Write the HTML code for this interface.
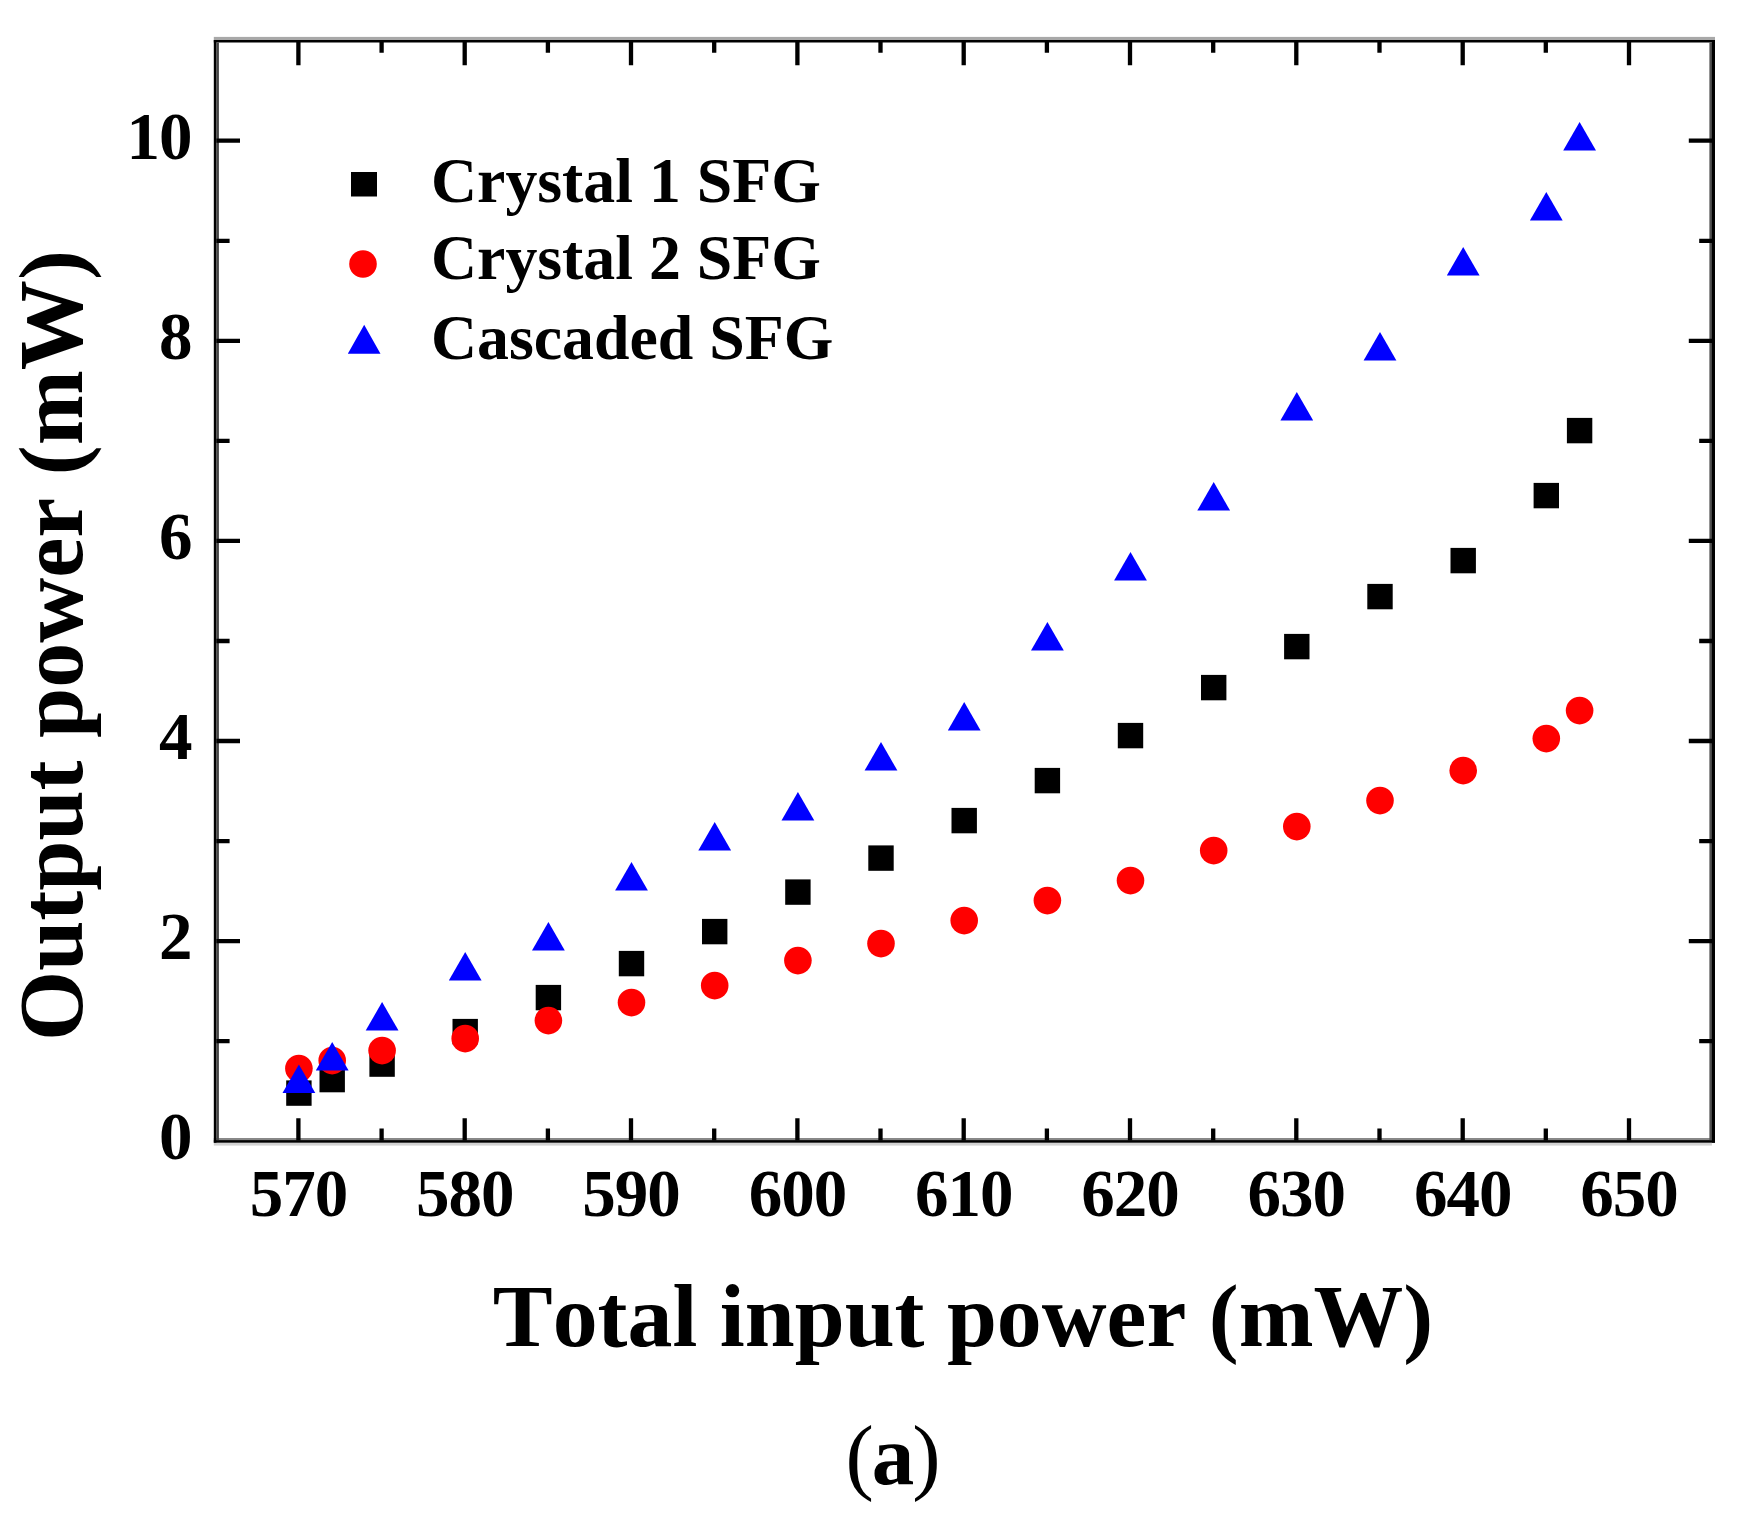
<!DOCTYPE html>
<html lang="en">
<head>
<meta charset="utf-8">
<title>Output power versus total input power</title>
<style>
html,body{margin:0;padding:0;background:#fff;}
body{width:1751px;height:1522px;overflow:hidden;position:relative;}
svg{position:absolute;left:0;top:0;display:block;}
text{font-family:"Liberation Serif","DejaVu Serif",serif;font-weight:bold;fill:#000;font-kerning:none;}
.tick{font-size:67px;letter-spacing:-1px;}
.leg{font-size:63.8px;}
.ttl{font-size:89.8px;}
.cap{font-size:85px;font-weight:normal;}
</style>
</head>
<body>
<svg width="1751" height="1522" viewBox="0 0 1751 1522">
<rect x="0" y="0" width="1751" height="1522" fill="#fff"/>
<g>
<rect x="213.8" y="36.9" width="1501.2" height="3.2" fill="#a8a8a8"/>
<rect x="213.8" y="40" width="1501.2" height="2.5" fill="#000"/>
<rect x="213.8" y="1142.6" width="1498.1" height="3" fill="#d2d2d2"/>
<rect x="213.8" y="1138" width="1501.2" height="2.2" fill="#888"/>
<rect x="213.8" y="1140.1" width="1501.2" height="2.6" fill="#000"/>
<rect x="213.8" y="40" width="2.6" height="1102.7" fill="#000"/>
<rect x="216.3" y="42.5" width="2.6" height="1097.6" fill="#444"/>
<rect x="1709.4" y="42.5" width="2.6" height="1097.6" fill="#505050"/>
<rect x="1711.9" y="40" width="3.1" height="1102.7" fill="#000"/>
</g>
<g stroke="#000" stroke-width="4.3" fill="none">
<path d="M298.4 1140.5V1118.3M298.4 40.3V65.3"/>
<path d="M381.6 1140.5V1128.4M381.6 40.3V52.8"/>
<path d="M464.7 1140.5V1118.3M464.7 40.3V65.3"/>
<path d="M547.9 1140.5V1128.4M547.9 40.3V52.8"/>
<path d="M631.0 1140.5V1118.3M631.0 40.3V65.3"/>
<path d="M714.2 1140.5V1128.4M714.2 40.3V52.8"/>
<path d="M797.4 1140.5V1118.3M797.4 40.3V65.3"/>
<path d="M880.5 1140.5V1128.4M880.5 40.3V52.8"/>
<path d="M963.7 1140.5V1118.3M963.7 40.3V65.3"/>
<path d="M1046.9 1140.5V1128.4M1046.9 40.3V52.8"/>
<path d="M1130.0 1140.5V1118.3M1130.0 40.3V65.3"/>
<path d="M1213.2 1140.5V1128.4M1213.2 40.3V52.8"/>
<path d="M1296.3 1140.5V1118.3M1296.3 40.3V65.3"/>
<path d="M1379.5 1140.5V1128.4M1379.5 40.3V52.8"/>
<path d="M1462.7 1140.5V1118.3M1462.7 40.3V65.3"/>
<path d="M1545.8 1140.5V1128.4M1545.8 40.3V52.8"/>
<path d="M1629.0 1140.5V1118.3M1629.0 40.3V65.3"/>
<path d="M216.4 1041.2H229.6M1712.4 1041.2H1699.2"/>
<path d="M216.4 941.1H240.0M1712.4 941.1H1688.8"/>
<path d="M216.4 841.1H229.6M1712.4 841.1H1699.2"/>
<path d="M216.4 741.0H240.0M1712.4 741.0H1688.8"/>
<path d="M216.4 641.0H229.6M1712.4 641.0H1699.2"/>
<path d="M216.4 540.9H240.0M1712.4 540.9H1688.8"/>
<path d="M216.4 440.9H229.6M1712.4 440.9H1699.2"/>
<path d="M216.4 340.8H240.0M1712.4 340.8H1688.8"/>
<path d="M216.4 240.8H229.6M1712.4 240.8H1699.2"/>
<path d="M216.4 140.7H240.0M1712.4 140.7H1688.8"/>
</g>
<g fill="#000">
<rect x="286.2" y="1080.4" width="25.4" height="25.4"/>
<rect x="319.5" y="1066.9" width="25.4" height="25.4"/>
<rect x="369.4" y="1051.4" width="25.4" height="25.4"/>
<rect x="452.5" y="1018.9" width="25.4" height="25.4"/>
<rect x="535.7" y="984.9" width="25.4" height="25.4"/>
<rect x="618.8" y="950.9" width="25.4" height="25.4"/>
<rect x="702.0" y="918.9" width="25.4" height="25.4"/>
<rect x="785.2" y="879.4" width="25.4" height="25.4"/>
<rect x="868.3" y="845.4" width="25.4" height="25.4"/>
<rect x="951.5" y="807.9" width="25.4" height="25.4"/>
<rect x="1034.7" y="767.9" width="25.4" height="25.4"/>
<rect x="1117.8" y="722.9" width="25.4" height="25.4"/>
<rect x="1201.0" y="674.9" width="25.4" height="25.4"/>
<rect x="1284.1" y="633.9" width="25.4" height="25.4"/>
<rect x="1367.3" y="583.9" width="25.4" height="25.4"/>
<rect x="1450.5" y="547.9" width="25.4" height="25.4"/>
<rect x="1533.6" y="482.9" width="25.4" height="25.4"/>
<rect x="1566.9" y="417.9" width="25.4" height="25.4"/>
</g>
<g fill="#f00">
<circle cx="298.9" cy="1068.6" r="13.8"/>
<circle cx="332.2" cy="1060.6" r="13.8"/>
<circle cx="382.1" cy="1050.6" r="13.8"/>
<circle cx="465.2" cy="1038.6" r="13.8"/>
<circle cx="548.4" cy="1020.6" r="13.8"/>
<circle cx="631.5" cy="1002.6" r="13.8"/>
<circle cx="714.7" cy="985.6" r="13.8"/>
<circle cx="797.9" cy="960.6" r="13.8"/>
<circle cx="881.0" cy="943.6" r="13.8"/>
<circle cx="964.2" cy="920.6" r="13.8"/>
<circle cx="1047.4" cy="900.6" r="13.8"/>
<circle cx="1130.5" cy="880.6" r="13.8"/>
<circle cx="1213.7" cy="850.6" r="13.8"/>
<circle cx="1296.8" cy="826.6" r="13.8"/>
<circle cx="1380.0" cy="800.6" r="13.8"/>
<circle cx="1463.2" cy="770.6" r="13.8"/>
<circle cx="1546.3" cy="738.6" r="13.8"/>
<circle cx="1579.6" cy="710.6" r="13.8"/>
</g>
<g fill="#00f">
<path d="M298.9 1064.5L315.3 1093.1H282.5Z"/>
<path d="M332.2 1042.0L348.6 1070.6H315.8Z"/>
<path d="M382.1 1002.0L398.5 1030.6H365.7Z"/>
<path d="M465.2 952.0L481.6 980.6H448.8Z"/>
<path d="M548.4 922.0L564.8 950.6H532.0Z"/>
<path d="M631.5 862.0L647.9 890.6H615.1Z"/>
<path d="M714.7 822.0L731.1 850.6H698.3Z"/>
<path d="M797.9 792.0L814.3 820.6H781.5Z"/>
<path d="M881.0 742.0L897.4 770.6H864.6Z"/>
<path d="M964.2 702.0L980.6 730.6H947.8Z"/>
<path d="M1047.4 622.0L1063.8 650.6H1031.0Z"/>
<path d="M1130.5 552.0L1146.9 580.6H1114.1Z"/>
<path d="M1213.7 482.0L1230.1 510.6H1197.3Z"/>
<path d="M1296.8 392.0L1313.2 420.6H1280.4Z"/>
<path d="M1380.0 332.0L1396.4 360.6H1363.6Z"/>
<path d="M1463.2 247.0L1479.6 275.6H1446.8Z"/>
<path d="M1546.3 192.0L1562.7 220.6H1529.9Z"/>
<path d="M1579.6 122.0L1596.0 150.6H1563.2Z"/>
</g>
<g>
<rect x="351" y="172" width="26" height="24.5" fill="#000"/>
<circle cx="363" cy="264" r="13.8" fill="#f00"/>
<path d="M364.2 324.7L380.5 353.8H347.8Z" fill="#00f"/>
<text class="leg" x="431" y="202">Crystal 1 SFG</text>
<text class="leg" x="431" y="279.4">Crystal 2 SFG</text>
<text class="leg" x="431" y="359.4">Cascaded SFG</text>
</g>
<g class="tick" text-anchor="middle">
<text x="298.4" y="1216.3">570</text>
<text x="464.7" y="1216.3">580</text>
<text x="631.0" y="1216.3">590</text>
<text x="797.4" y="1216.3">600</text>
<text x="963.7" y="1216.3">610</text>
<text x="1130.0" y="1216.3">620</text>
<text x="1296.3" y="1216.3">630</text>
<text x="1462.7" y="1216.3">640</text>
<text x="1629.0" y="1216.3">650</text>
</g>
<g class="tick" text-anchor="end">
<text x="191.5" y="1159.2">0</text>
<text x="191.5" y="959.2">2</text>
<text x="191.5" y="759.2">4</text>
<text x="191.5" y="559.2">6</text>
<text x="191.5" y="359.2">8</text>
<text x="191.5" y="159.2">10</text>
</g>
<text class="ttl" x="963" y="1345.6" text-anchor="middle">Total input power (mW)</text>
<text class="ttl" style="font-size:90.1px" transform="translate(82 645.5) rotate(-90)" text-anchor="middle">Output power (mW)</text>
<text class="cap" x="893" y="1484" text-anchor="middle">(<tspan font-weight="bold" dx="-2">a</tspan><tspan dx="-2">)</tspan></text>
</svg>
</body>
</html>
